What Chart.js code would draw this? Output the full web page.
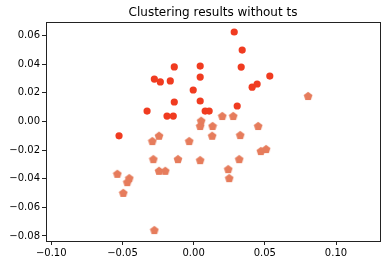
<!DOCTYPE html>
<html>
<head>
<meta charset="utf-8">
<script src="https://cdn.jsdelivr.net/npm/chart.js@4/dist/chart.umd.min.js"></script>
<style>
  html, body { margin: 0; padding: 0; background: #fff; }
  #wrap { width: 386px; height: 264px; position: relative; }
</style>
</head>
<body>
<div id="wrap"><canvas id="plot"></canvas></div>
<script>
// cluster 1 (red circles)
const clusterAX = [-0.0136, 0.0046, -0.0276, -0.0234, -0.0164, 0.0046, -0.0003, -0.0136, 0.0046, -0.0327,
  0.0081, 0.0109, -0.0187, -0.0143, 0.0285, 0.0341, 0.0334, 0.0535, 0.0411, 0.0446, 0.0306, -0.0524];
const clusterAY = [0.0381, 0.0387, 0.0296, 0.0276, 0.0283, 0.0310, 0.0220, 0.0136, 0.0143, 0.0073,
  0.0073, 0.0073, 0.0038, 0.0038, 0.0625, 0.0499, 0.0380, 0.0317, 0.0240, 0.0262, 0.0108, -0.0100];

// cluster 2 (salmon pentagons)
const clusterBX = [0.0053, 0.0046, 0.0133, 0.0201, 0.0278, 0.0453, 0.0804, -0.0243, 0.0130, -0.0290,
  -0.0031, -0.0283, -0.0110, 0.0046, -0.0243, -0.0199, -0.0536, -0.0452, -0.0466, -0.0494,
  -0.0276, 0.0327, 0.0472, 0.0509, 0.0320, 0.0243, 0.0250];
const clusterBY = [0.0005, -0.0032, -0.0032, 0.0038, 0.0038, -0.0032, 0.0178, -0.0100, -0.0100, -0.0137,
  -0.0137, -0.0263, -0.0263, -0.0270, -0.0345, -0.0345, -0.0366, -0.0396, -0.0424, -0.0499,
  -0.0759, -0.0095, -0.0207, -0.0193, -0.0263, -0.0333, -0.0396];

const xTicks = [-0.10, -0.05, 0.00, 0.05, 0.10];
const yTicks = [-0.08, -0.06, -0.04, -0.02, 0.00, 0.02, 0.04, 0.06];
const title = 'Clustering results without ts';

const RED = '#f03b20';
const SALMON = '#e67c5c';

const toPoints = (xs, ys) => xs.map((x, i) => ({ x, y: ys[i] }));
const fmt = (v) => {
  const s = Math.abs(v).toFixed(2);
  return v < -1e-9 ? '\u2212' + s : s;
};

// pentagon marker
const pentagon = (() => {
  const c = document.createElement('canvas');
  c.width = 10; c.height = 10;
  const g = c.getContext('2d');
  g.fillStyle = SALMON;
  g.beginPath();
  for (let i = 0; i < 5; i++) {
    const a = -Math.PI / 2 + i * 2 * Math.PI / 5;
    const px = 5 + 4.6 * Math.cos(a);
    const py = 5.4 + 4.6 * Math.sin(a);
    if (i === 0) g.moveTo(px, py); else g.lineTo(px, py);
  }
  g.closePath();
  g.fill();
  return c;
})();

const framePlugin = {
  id: 'frame',
  afterDraw(chart) {
    const { ctx, chartArea: a } = chart;
    ctx.save();
    ctx.strokeStyle = '#222';
    ctx.lineWidth = 1;
    ctx.strokeRect(Math.round(a.left) + 0.5, Math.round(a.top) + 0.5,
      Math.round(a.right - a.left), Math.round(a.bottom - a.top));
    ctx.fillStyle = '#000';
    ctx.font = '12px "DejaVu Sans"';
    ctx.textAlign = 'center';
    ctx.textBaseline = 'alphabetic';
    ctx.fillText(title, (a.left + a.right) / 2, 16);
    ctx.restore();
  },
};

const tickFont = { family: 'DejaVu Sans', size: 10 };

new Chart(document.getElementById('plot'), {
  type: 'scatter',
  data: {
    datasets: [
      {
        data: toPoints(clusterAX, clusterAY),
        backgroundColor: RED,
        borderWidth: 0,
        pointRadius: 3.6,
        pointHoverRadius: 3.6,
        order: 2,
      },
      {
        data: toPoints(clusterBX, clusterBY),
        pointStyle: pentagon,
        backgroundColor: SALMON,
        borderWidth: 0,
        pointRadius: 4,
        order: 1,
      },
    ],
  },
  options: {
    responsive: true,
    maintainAspectRatio: false,
    animation: false,
    layout: { padding: { left: 0, right: 6, top: 22, bottom: 0 } },
    plugins: {
      legend: { display: false },
      tooltip: { enabled: false },
    },
    scales: {
      x: {
        type: 'linear',
        min: -0.1037,
        max: 0.1309,
        afterBuildTicks: (s) => { s.ticks = xTicks.map((v) => ({ value: v })); },
        afterFit: (s) => { s.height = 23; },
        grid: { drawOnChartArea: false, drawTicks: true, tickLength: 4, color: '#222' },
        border: { display: false },
        ticks: { font: tickFont, color: '#000', padding: 2, maxRotation: 0, callback: (v) => fmt(v) },
      },
      y: {
        type: 'linear',
        min: -0.0835,
        max: 0.0695,
        afterBuildTicks: (s) => { s.ticks = yTicks.map((v) => ({ value: v })); },
        afterFit: (s) => { s.width = 46; },
        grid: { drawOnChartArea: false, drawTicks: true, tickLength: 4, color: '#222' },
        border: { display: false },
        ticks: { font: tickFont, color: '#000', padding: 2, callback: (v) => fmt(v) },
      },
    },
  },
  plugins: [framePlugin],
});
</script>
</body>
</html>
